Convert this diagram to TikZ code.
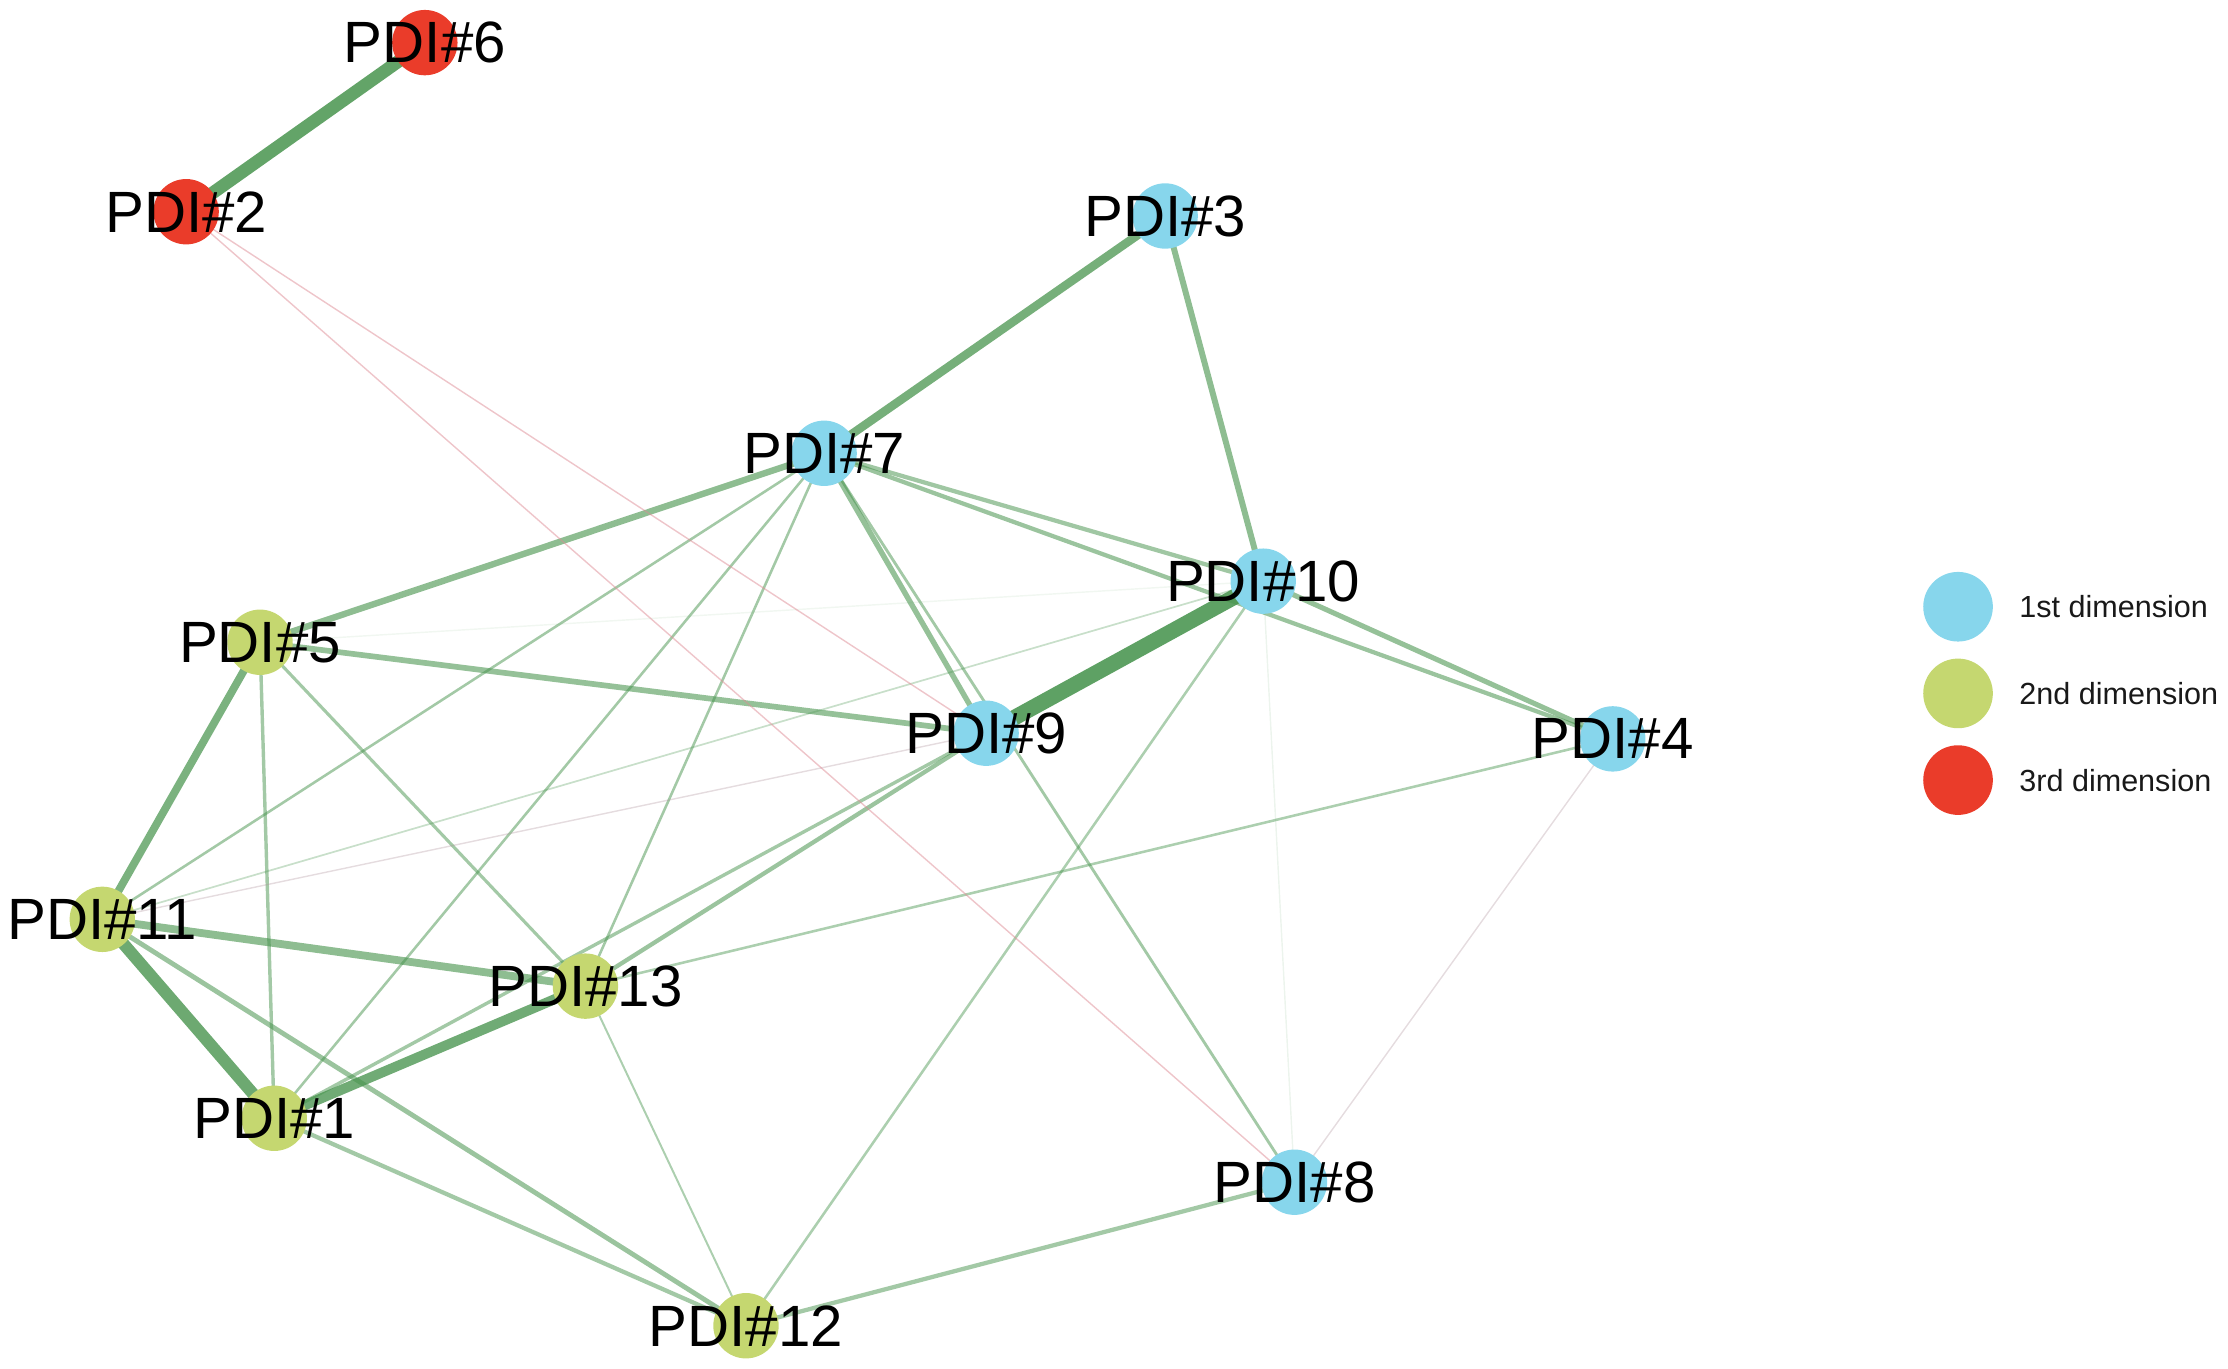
\documentclass[tikz,border=0pt]{standalone}
\usepackage{fontspec}
\setmainfont{Liberation Sans}
\definecolor{cblue}{RGB}{135,214,236}
\definecolor{cgreen}{RGB}{197,215,112}
\definecolor{cred}{RGB}{234,60,42}
\definecolor{eg}{RGB}{72,148,78}
\definecolor{ep}{RGB}{222,140,150}
\definecolor{eq}{RGB}{170,140,150}
\pgfdeclarelayer{bg}
\pgfsetlayers{bg,main}
\tikzset{
  pdi/.style={circle, minimum size=46pt, inner sep=0pt},
  pb/.style={pdi, fill=cblue},
  pg/.style={pdi, fill=cgreen},
  pr/.style={pdi, fill=cred},
  plab/.style={inner sep=0pt, text=black, font=\fontsize{41}{41}\selectfont},
  ed/.style 2 args={draw=eg, line width=#1pt, draw opacity=#2},
  ep/.style 2 args={draw=ep, line width=#1pt, draw opacity=#2},
  eq/.style 2 args={draw=eq, line width=#1pt, draw opacity=#2},
  lgc/.style={circle, minimum size=49pt, inner sep=0pt},
  lgt/.style={anchor=west, inner sep=0pt, text=black!90,
              font=\fontsize{21.5}{21.5}\selectfont}
}
\begin{document}
\begin{tikzpicture}[x=1pt, y=-1pt]
\useasboundingbox (0,0) rectangle (1568,963);
% node circles
\node[pr] (n6)  at (299,30)   {};
\node[pr] (n2)  at (131,149)  {};
\node[pb] (n3)  at (820,152)  {};
\node[pb] (n7)  at (580,319)  {};
\node[pb] (n10) at (889,409)  {};
\node[pg] (n5)  at (183,452)  {};
\node[pb] (n9)  at (694,516)  {};
\node[pb] (n4)  at (1135,520) {};
\node[pg] (n11) at (72,647)   {};
\node[pg] (n13) at (412,694)  {};
\node[pg] (n1)  at (193,787)  {};
\node[pb] (n8)  at (911,832)  {};
\node[pg] (n12) at (525,933)  {};
% labels
\node[plab] (a6)  at (n6)  {PDI\#6};
\node[plab] (a2)  at (n2)  {PDI\#2};
\node[plab] (a3)  at (n3)  {PDI\#3};
\node[plab] (a7)  at (n7)  {PDI\#7};
\node[plab] (a10) at (n10) {PDI\#10};
\node[plab] (a5)  at (n5)  {PDI\#5};
\node[plab] (a9)  at (n9)  {PDI\#9};
\node[plab] (a4)  at (n4)  {PDI\#4};
\node[plab] (a11) at (n11) {PDI\#11};
\node[plab] (a13) at (n13) {PDI\#13};
\node[plab] (a1)  at (n1)  {PDI\#1};
\node[plab] (a8)  at (n8)  {PDI\#8};
\node[plab] (a12) at (n12) {PDI\#12};
% legend
\node[lgc, fill=cblue]  (l1) at (1378,427) {};
\node[lgc, fill=cgreen] (l2) at (1378,488) {};
\node[lgc, fill=cred]   (l3) at (1378,549) {};
\node[lgt] (t1) at (1421,427) {1st dimension};
\node[lgt] (t2) at (1421,488) {2nd dimension};
\node[lgt] (t3) at (1421,549) {3rd dimension};
% edges
\begin{pgfonlayer}{bg}
\draw[ed={9}{.85}]   (n6.center) -- (n2.center);
\draw[ed={11}{.88}]  (n9.center) -- (n10.center);
\draw[ed={8.5}{.8}]  (n11.center) -- (n1.center);
\draw[ed={7}{.78}]   (n1.center) -- (n13.center);
\draw[ed={6}{.75}]   (n7.center) -- (n3.center);
\draw[ed={5.5}{.72}] (n11.center) -- (n5.center);
\draw[ed={5.5}{.62}] (n11.center) -- (n13.center);
\draw[ed={4.2}{.62}] (n3.center) -- (n10.center);
\draw[ed={4.5}{.62}] (n7.center) -- (n5.center);
\draw[ed={4}{.58}]   (n5.center) -- (n9.center);
\draw[ed={3.6}{.58}] (n10.center) -- (n4.center);
\draw[ed={3}{.55}]   (n7.center) -- (n4.center);
\draw[ed={3}{.52}]   (n7.center) -- (n10.center);
\draw[ed={3.8}{.58}] (n7.center) -- (n9.center);
\draw[ed={2}{.5}]    (n7.center) -- (n8.center);
\draw[ed={3}{.55}]   (n9.center) -- (n13.center);
\draw[ed={2.4}{.5}]  (n9.center) -- (n1.center);
\draw[ed={3.4}{.55}] (n11.center) -- (n12.center);
\draw[ed={3}{.5}]    (n1.center) -- (n12.center);
\draw[ed={3}{.5}]    (n12.center) -- (n8.center);
\draw[ed={2.4}{.5}]  (n5.center) -- (n1.center);
\draw[ed={2.2}{.5}]  (n5.center) -- (n13.center);
\draw[ed={1.8}{.5}]  (n7.center) -- (n11.center);
\draw[ed={1.8}{.5}]  (n7.center) -- (n1.center);
\draw[ed={1.8}{.5}]  (n7.center) -- (n13.center);
\draw[ed={1.8}{.45}] (n13.center) -- (n4.center);
\draw[ed={1.4}{.45}] (n13.center) -- (n12.center);
\draw[ed={1.8}{.45}] (n10.center) -- (n12.center);
\draw[ed={1.2}{.3}]  (n11.center) -- (n10.center);
\draw[ed={1}{.08}]   (n5.center) -- (n10.center);
\draw[ed={1}{.1}]    (n10.center) -- (n8.center);
\draw[eq={1}{.3}]    (n4.center) -- (n8.center);
\draw[eq={1}{.3}]    (n11.center) -- (n9.center);
\draw[ep={1}{.5}]    (n2.center) -- (n8.center);
\draw[ep={1}{.5}]    (n2.center) -- (n9.center);
\end{pgfonlayer}
\end{tikzpicture}
\end{document}
